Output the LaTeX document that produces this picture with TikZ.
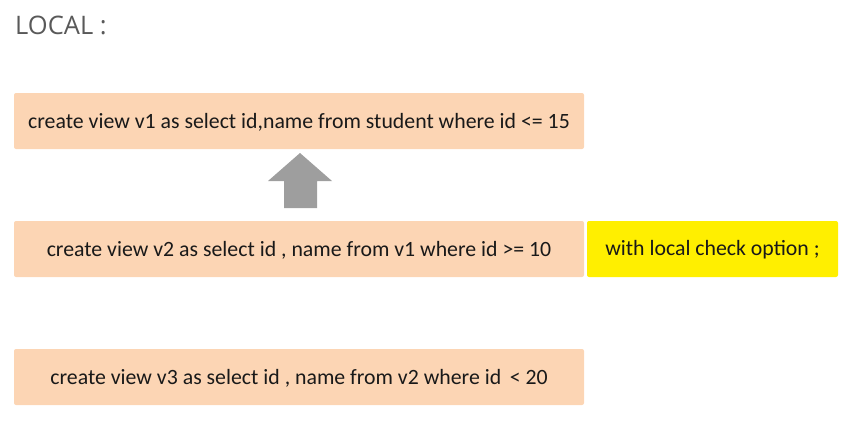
\documentclass[tikz,border=0pt]{standalone}
\usepackage{fontspec}
\setmainfont{Carlito}
\newfontfamily\titlefont{Open Sans}
\begin{document}
\begin{tikzpicture}[x=1pt,y=-1pt,
  sqlbox/.style={fill=#1, rounded corners=2pt, draw=none},
  boxtext/.style={font=\fontsize{21.8}{24}\selectfont, text=black!90, inner sep=0pt, anchor=center},
]
\useasboundingbox (0,0) rectangle (853,426);
\definecolor{peach}{HTML}{FCD5B4}
\definecolor{yel}{HTML}{FFEF00}
\definecolor{titlegray}{HTML}{595959}
\node[font=\titlefont\fontsize{25.5}{28}\selectfont, text=titlegray, anchor=west, inner sep=0pt] (title) at (15,25) {LOCAL :};
\fill[sqlbox=peach] (14,93) rectangle (584,149);
\node[boxtext] (v1) at (299,122) {create view v1 as select id,name from student where id <= 15};
\fill[sqlbox=peach] (14,221) rectangle (584,277);
\node[boxtext] (v2) at (299,250) {create view v2 as select id , name from v1 where id >= 10};
\fill[sqlbox=yel] (587,221) rectangle (838,277);
\node[boxtext] (opt) at (712.5,250) {with local check option ;};
\fill[sqlbox=peach] (14,349) rectangle (584,405);
\node[boxtext] (v3) at (299,378) {create view v3 as select id , name from v2 where id \,< 20};
\fill[black!38] (284,208) -- (284,181) -- (268,181) -- (300,153) -- (332,181) -- (317,181) -- (317,208) -- cycle;
\end{tikzpicture}
\end{document}
